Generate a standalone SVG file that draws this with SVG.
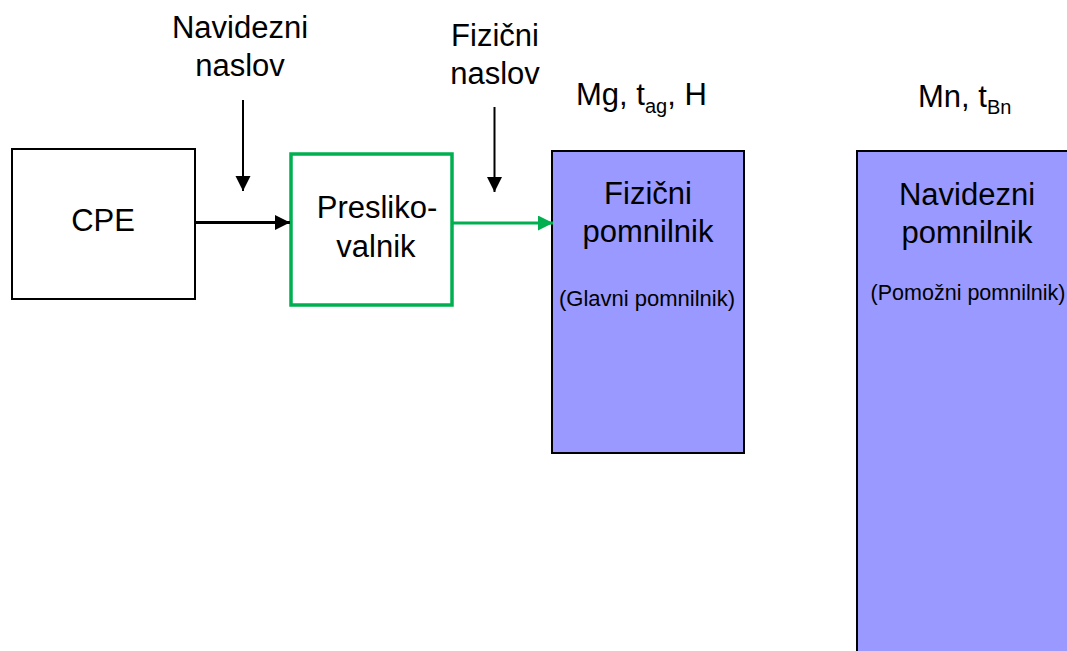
<svg xmlns="http://www.w3.org/2000/svg" width="1067" height="651" viewBox="0 0 1067 651">
<style>
text{font-family:"Liberation Sans",Arial,sans-serif;fill:#000}
.big{font-size:31px}
.sm{font-size:21.5px}
.sub{font-size:20px}
.mem{fill:#9999FF;stroke:#000;stroke-width:2}
</style>
<defs>
<marker id="ahB" markerUnits="userSpaceOnUse" markerWidth="16" markerHeight="16" refX="15" refY="7.5" orient="auto"><path d="M0,0 L15,7.5 L0,15 Z" fill="#000"/></marker>
<marker id="ahG" markerUnits="userSpaceOnUse" markerWidth="16" markerHeight="16" refX="15" refY="7.5" orient="auto"><path d="M0,0 L15,7.5 L0,15 Z" fill="#00B050"/></marker>
</defs>
<rect width="1067" height="651" fill="#fff"/>
<g id="labels">
<text class="big" x="240" y="38" text-anchor="middle">Navidezni</text>
<text class="big" x="240" y="76" text-anchor="middle">naslov</text>
<text class="big" x="495" y="46" text-anchor="middle">Fizični</text>
<text class="big" x="495" y="84" text-anchor="middle">naslov</text>
<text class="big" x="576" y="105">Mg, t<tspan class="sub" dy="8">ag</tspan><tspan dy="-8">, H</tspan></text>
<text class="big" x="918" y="107">Mn, t<tspan class="sub" dy="7">Bn</tspan></text>
</g>
<g id="cpe">
<rect x="12" y="149" width="183" height="150" fill="#fff" stroke="#000" stroke-width="2"/>
<text class="big" x="103" y="231" text-anchor="middle">CPE</text>
</g>
<g id="preslikovalnik">
<rect x="291" y="154" width="161" height="151" fill="#fff" stroke="#00B050" stroke-width="3.5"/>
<text class="big" x="377" y="218" text-anchor="middle">Presliko-</text>
<text class="big" x="376" y="257" text-anchor="middle">valnik</text>
</g>
<g id="fizicni">
<rect class="mem" x="552" y="151" width="192" height="302"/>
<text class="big" x="648" y="204" text-anchor="middle">Fizični</text>
<text class="big" x="648" y="242" text-anchor="middle">pomnilnik</text>
<text class="sm" x="647" y="306" text-anchor="middle" style="font-size:22px">(Glavni pomnilnik)</text>
</g>
<g id="navidezni">
<rect class="mem" x="857" y="151" width="240" height="520"/>
<text class="big" x="967" y="205" text-anchor="middle">Navidezni</text>
<text class="big" x="967" y="243" text-anchor="middle">pomnilnik</text>
<text class="sm" x="968" y="300" text-anchor="middle">(Pomožni pomnilnik)</text>
</g>
<g id="connectors">
<line x1="195" y1="222.5" x2="290" y2="222.5" stroke="#000" stroke-width="3" marker-end="url(#ahB)"/>
<line x1="452" y1="223" x2="553" y2="223" stroke="#00B050" stroke-width="3" marker-end="url(#ahG)"/>
<line x1="243" y1="100" x2="243" y2="191" stroke="#000" stroke-width="2" marker-end="url(#ahB)"/>
<line x1="494.5" y1="107" x2="494.5" y2="192" stroke="#000" stroke-width="2" marker-end="url(#ahB)"/>
</g>
</svg>
